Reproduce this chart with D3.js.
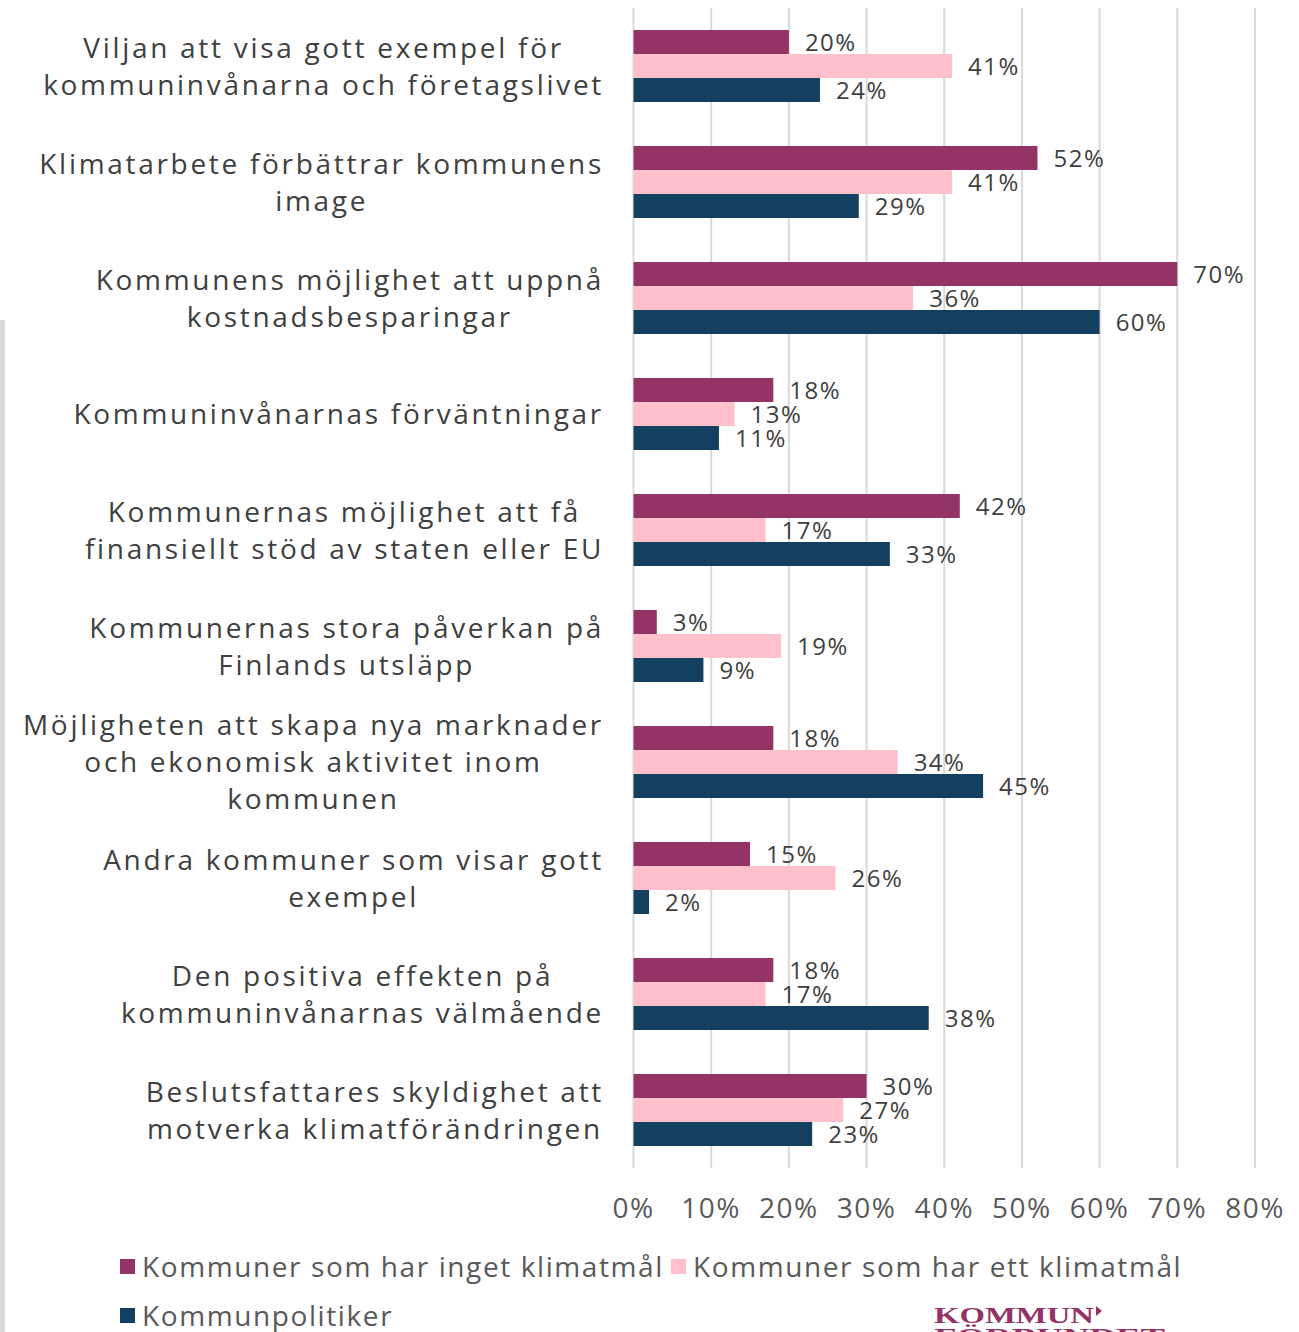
<!DOCTYPE html>
<html>
<head>
<meta charset="utf-8">
<script src="https://cdn.jsdelivr.net/npm/d3@7"></script>
<style>
  body { margin: 0; background: #fff; }
  svg { display: block; font-family: "Open Sans", sans-serif; }
</style>
</head>
<body>
<div id="chart"></div>
<script>
// categories (lines of each label)
var categories = [
  ["Viljan att visa gott exempel för", "kommuninvånarna och företagslivet"],
  ["Klimatarbete förbättrar kommunens", "image"],
  ["Kommunens möjlighet att uppnå", "kostnadsbesparingar"],
  ["Kommuninvånarnas förväntningar"],
  ["Kommunernas möjlighet att få", "finansiellt stöd av staten eller EU"],
  ["Kommunernas stora påverkan på", "Finlands utsläpp"],
  ["Möjligheten att skapa nya marknader", "och ekonomisk aktivitet inom", "kommunen"],
  ["Andra kommuner som visar gott", "exempel"],
  ["Den positiva effekten på", "kommuninvånarnas välmående"],
  ["Beslutsfattares skyldighet att", "motverka klimatförändringen"]
];

var seriesNames = ["Kommuner som har inget klimatmål", "Kommuner som har ett klimatmål", "Kommunpolitiker"];
var seriesColors = ["#933366", "#ffc0cb", "#134061"];

var ingetKlimatmal = [20, 52, 70, 18, 42, 3, 18, 15, 18, 30];
var ettKlimatmal   = [41, 41, 36, 13, 17, 19, 34, 26, 17, 27];
var politiker      = [24, 29, 60, 11, 33, 9, 45, 2, 38, 23];
var seriesValues = [ingetKlimatmal, ettKlimatmal, politiker];

var xTicks = [0, 10, 20, 30, 40, 50, 60, 70, 80];

var width = 1299, height = 1332;
var svg = d3.select('#chart').append('svg')
  .attr('width', width).attr('height', height);

// thin grey frame line on the left
svg.append('rect').attr('x', 0).attr('y', 320).attr('width', 5).attr('height', height - 320)
  .attr('fill', '#ddd8d3');

var x = d3.scaleLinear().domain([0, 80]).range([633.5, 1255]);
var y = d3.scaleBand().domain(d3.range(categories.length)).range([8, 1168]).paddingInner(44 / 116).paddingOuter(22 / 116);
var ySub = d3.scaleBand().domain(d3.range(3)).range([0, y.bandwidth()]);

// gridlines
svg.append('g').selectAll('line').data(xTicks).enter().append('line')
  .attr('x1', function (d) { return x(d); }).attr('x2', function (d) { return x(d); })
  .attr('y1', 8).attr('y2', 1168)
  .attr('stroke', '#d9d9d9').attr('stroke-width', 2);

// tick labels
svg.append('g').selectAll('text').data(xTicks).enter().append('text')
  .attr('x', function (d) { return x(d); })
  .attr('y', 1218)
  .attr('text-anchor', 'middle')
  .attr('font-size', 28)
  .attr('letter-spacing', 1.5)
  .attr('fill', '#595959')
  .text(function (d) { return d + '%'; });

// bars
var groups = svg.append('g').selectAll('g').data(seriesValues).enter().append('g');
groups.selectAll('rect').data(function (d, s) { return d.map(function (v, i) { return { v: v, i: i, s: s }; }); })
  .enter().append('rect')
  .attr('x', x(0))
  .attr('y', function (d) { return y(d.i) + ySub(d.s); })
  .attr('width', function (d) { return x(d.v) - x(0); })
  .attr('height', ySub.bandwidth())
  .attr('fill', function (d) { return seriesColors[d.s]; });

groups.selectAll('text').data(function (d, s) { return d.map(function (v, i) { return { v: v, i: i, s: s }; }); })
  .enter().append('text')
  .attr('x', function (d) { return x(d.v) + 16; })
  .attr('y', function (d) { return y(d.i) + ySub(d.s) + ySub.bandwidth() / 2; })
  .attr('dy', '0.36em')
  .attr('font-size', 24)
  .attr('letter-spacing', 1.5)
  .attr('fill', '#404040')
  .text(function (d) { return d.v + '%'; });

// category labels: block right-aligned, lines centred within block
var lineH = 37;
var labels = svg.append('g').selectAll('g').data(categories).enter().append('g');
labels.each(function (lines, i) {
  var g = d3.select(this);
  var texts = g.selectAll('text').data(lines).enter().append('text')
    .attr('font-size', 28)
    .attr('letter-spacing', 2.7)
    .attr('fill', '#404040')
    .attr('text-anchor', 'middle')
    .attr('y', function (d, k) { return y(i) + y.bandwidth() / 2 + (k - (lines.length - 1) / 2) * lineH; })
    .attr('dy', '0.36em')
    .text(function (d) { return d; });
  var maxW = 0;
  texts.each(function () { maxW = Math.max(maxW, this.getComputedTextLength()); });
  texts.attr('x', 604 - maxW / 2);
});

// legend
var legendPos = [[120, 1267], [671, 1267], [120, 1316]];
var legend = svg.append('g').selectAll('g').data(seriesNames).enter().append('g')
  .attr('transform', function (d, i) { return 'translate(' + legendPos[i][0] + ',' + legendPos[i][1] + ')'; });
legend.append('rect').attr('x', 0).attr('y', -8).attr('width', 15).attr('height', 15)
  .attr('fill', function (d, i) { return seriesColors[i]; });
legend.append('text').attr('x', 22).attr('dy', '0.36em')
  .attr('font-size', 28).attr('letter-spacing', 1.6).attr('fill', '#595959')
  .text(function (d) { return d; });

// logo
var logo = svg.append('g').attr('fill', '#933366').attr('font-family', '"Liberation Serif", serif').attr('font-weight', 'bold');
logo.append('text').attr('x', 934).attr('y', 1323).attr('font-size', 23)
  .attr('textLength', 160).attr('lengthAdjust', 'spacingAndGlyphs').text('KOMMUN');
logo.append('path').attr('d', 'M1096,1306 L1102,1311 L1096,1316 Z');
logo.append('text').attr('x', 934).attr('y', 1344).attr('font-size', 23)
  .attr('textLength', 231).attr('lengthAdjust', 'spacingAndGlyphs').text('FÖRBUNDET');
</script>
</body>
</html>
